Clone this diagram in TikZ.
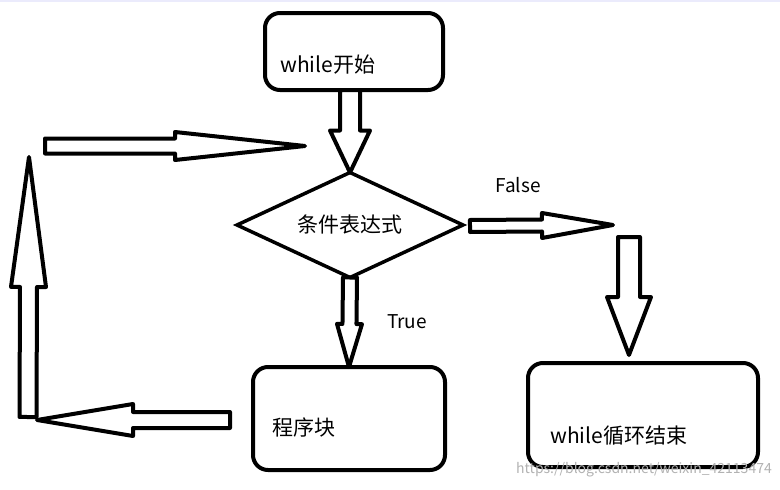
\documentclass[tikz,border=0pt]{standalone}
\usepackage{fontspec}
\setmainfont{Noto Sans CJK SC}
\usetikzlibrary{shapes.geometric,calc}

% hollow block arrow: tail, tip, shaft half width, head half width, head length
\newcommand{\blockarrow}[5]{%
    \coordinate (ha) at ($(#2)!#5!(#1)$);
    \draw[hollowarrow] ($(#1)!#3!90:(#2)$) -- ($(ha)!#3!90:(#2)$) -- ($(ha)!#4!90:(#2)$)
        -- (#2) -- ($(ha)!#4!-90:(#2)$) -- ($(ha)!#3!-90:(#2)$) -- ($(#1)!#3!-90:(#2)$) -- cycle;
}

\begin{document}
\begin{tikzpicture}[x=1pt, y=-1pt,
        box/.style={draw, line width=4pt, rounded corners=15pt, outer sep=0pt, inner sep=0pt},
        cond/.style={draw, diamond, line width=3.5pt, aspect=2.15, inner sep=0pt, outer sep=0pt,
            minimum width=226pt, minimum height=105pt, font=\fontsize{21}{25}\selectfont},
        txt/.style={anchor=west, inner sep=0pt, font=\fontsize{21}{25}\selectfont},
        hollowarrow/.style={line width=4pt, line join=round, fill=white}]
        \useasboundingbox (0,0) rectangle (780,490);
        \fill[black!12!blue!8] (0,0) rectangle (780,2);

        % boxes
        \node[box, minimum width=178pt, minimum height=77pt] (start) at (354,51.5) {};
        \node[cond] (test) at (350,225) {条件表达式};
        \node[box, minimum width=192pt, minimum height=103pt] (body) at (349,418.5) {};
        \node[box, minimum width=230pt, minimum height=104pt] (stop) at (643,415) {};

        \node[txt] (starttext) at ($(start.west)+(15,13)$) {while开始};
        \node[txt] (bodytext) at ($(body.west)+(19,9)$) {程序块};
        \node[txt] (stoptext) at ($(stop.west)+(22,21)$) {while循环结束};

        \node[txt, anchor=center] (truelabel) at (407,322) {\fontsize{19}{22}\selectfont True};
        \node[txt, anchor=center] (falselabel) at (518,185) {\fontsize{19}{22}\selectfont False};

        % loop coordinates
        \coordinate (backa) at (230,420);
        \coordinate (backb) at (37,420);
        \coordinate (upa) at (28,417);
        \coordinate (upb) at (29,157);
        \coordinate (reta) at (45,146);
        \coordinate (retb) at (305,146);
        \coordinate (falsea) at (470,226);
        \coordinate (falseb) at (613,225);
        \coordinate (downa) at (629,237);
        \coordinate (downb) at (629,355);

        % arrows
        \blockarrow{start.south -| test.north}{test.north}{10pt}{20pt}{42pt}
        \blockarrow{test.south}{body.north}{7pt}{12.5pt}{43pt}
        \blockarrow{backa}{backb}{8pt}{16pt}{96pt}
        \blockarrow{upa}{upb}{8.5pt}{17.5pt}{130pt}
        \blockarrow{reta}{retb}{7.5pt}{14pt}{130pt}
        \blockarrow{falsea}{falseb}{6pt}{12.5pt}{71pt}
        \blockarrow{downa}{downb}{11pt}{22pt}{58pt}

        \node[anchor=east, inner sep=0pt, text=black!30, font=\fontsize{14}{16}\selectfont] (mark) at (772,470) {https://blog.csdn.net/weixin\_42113474};
    \end{tikzpicture}
\end{document}
